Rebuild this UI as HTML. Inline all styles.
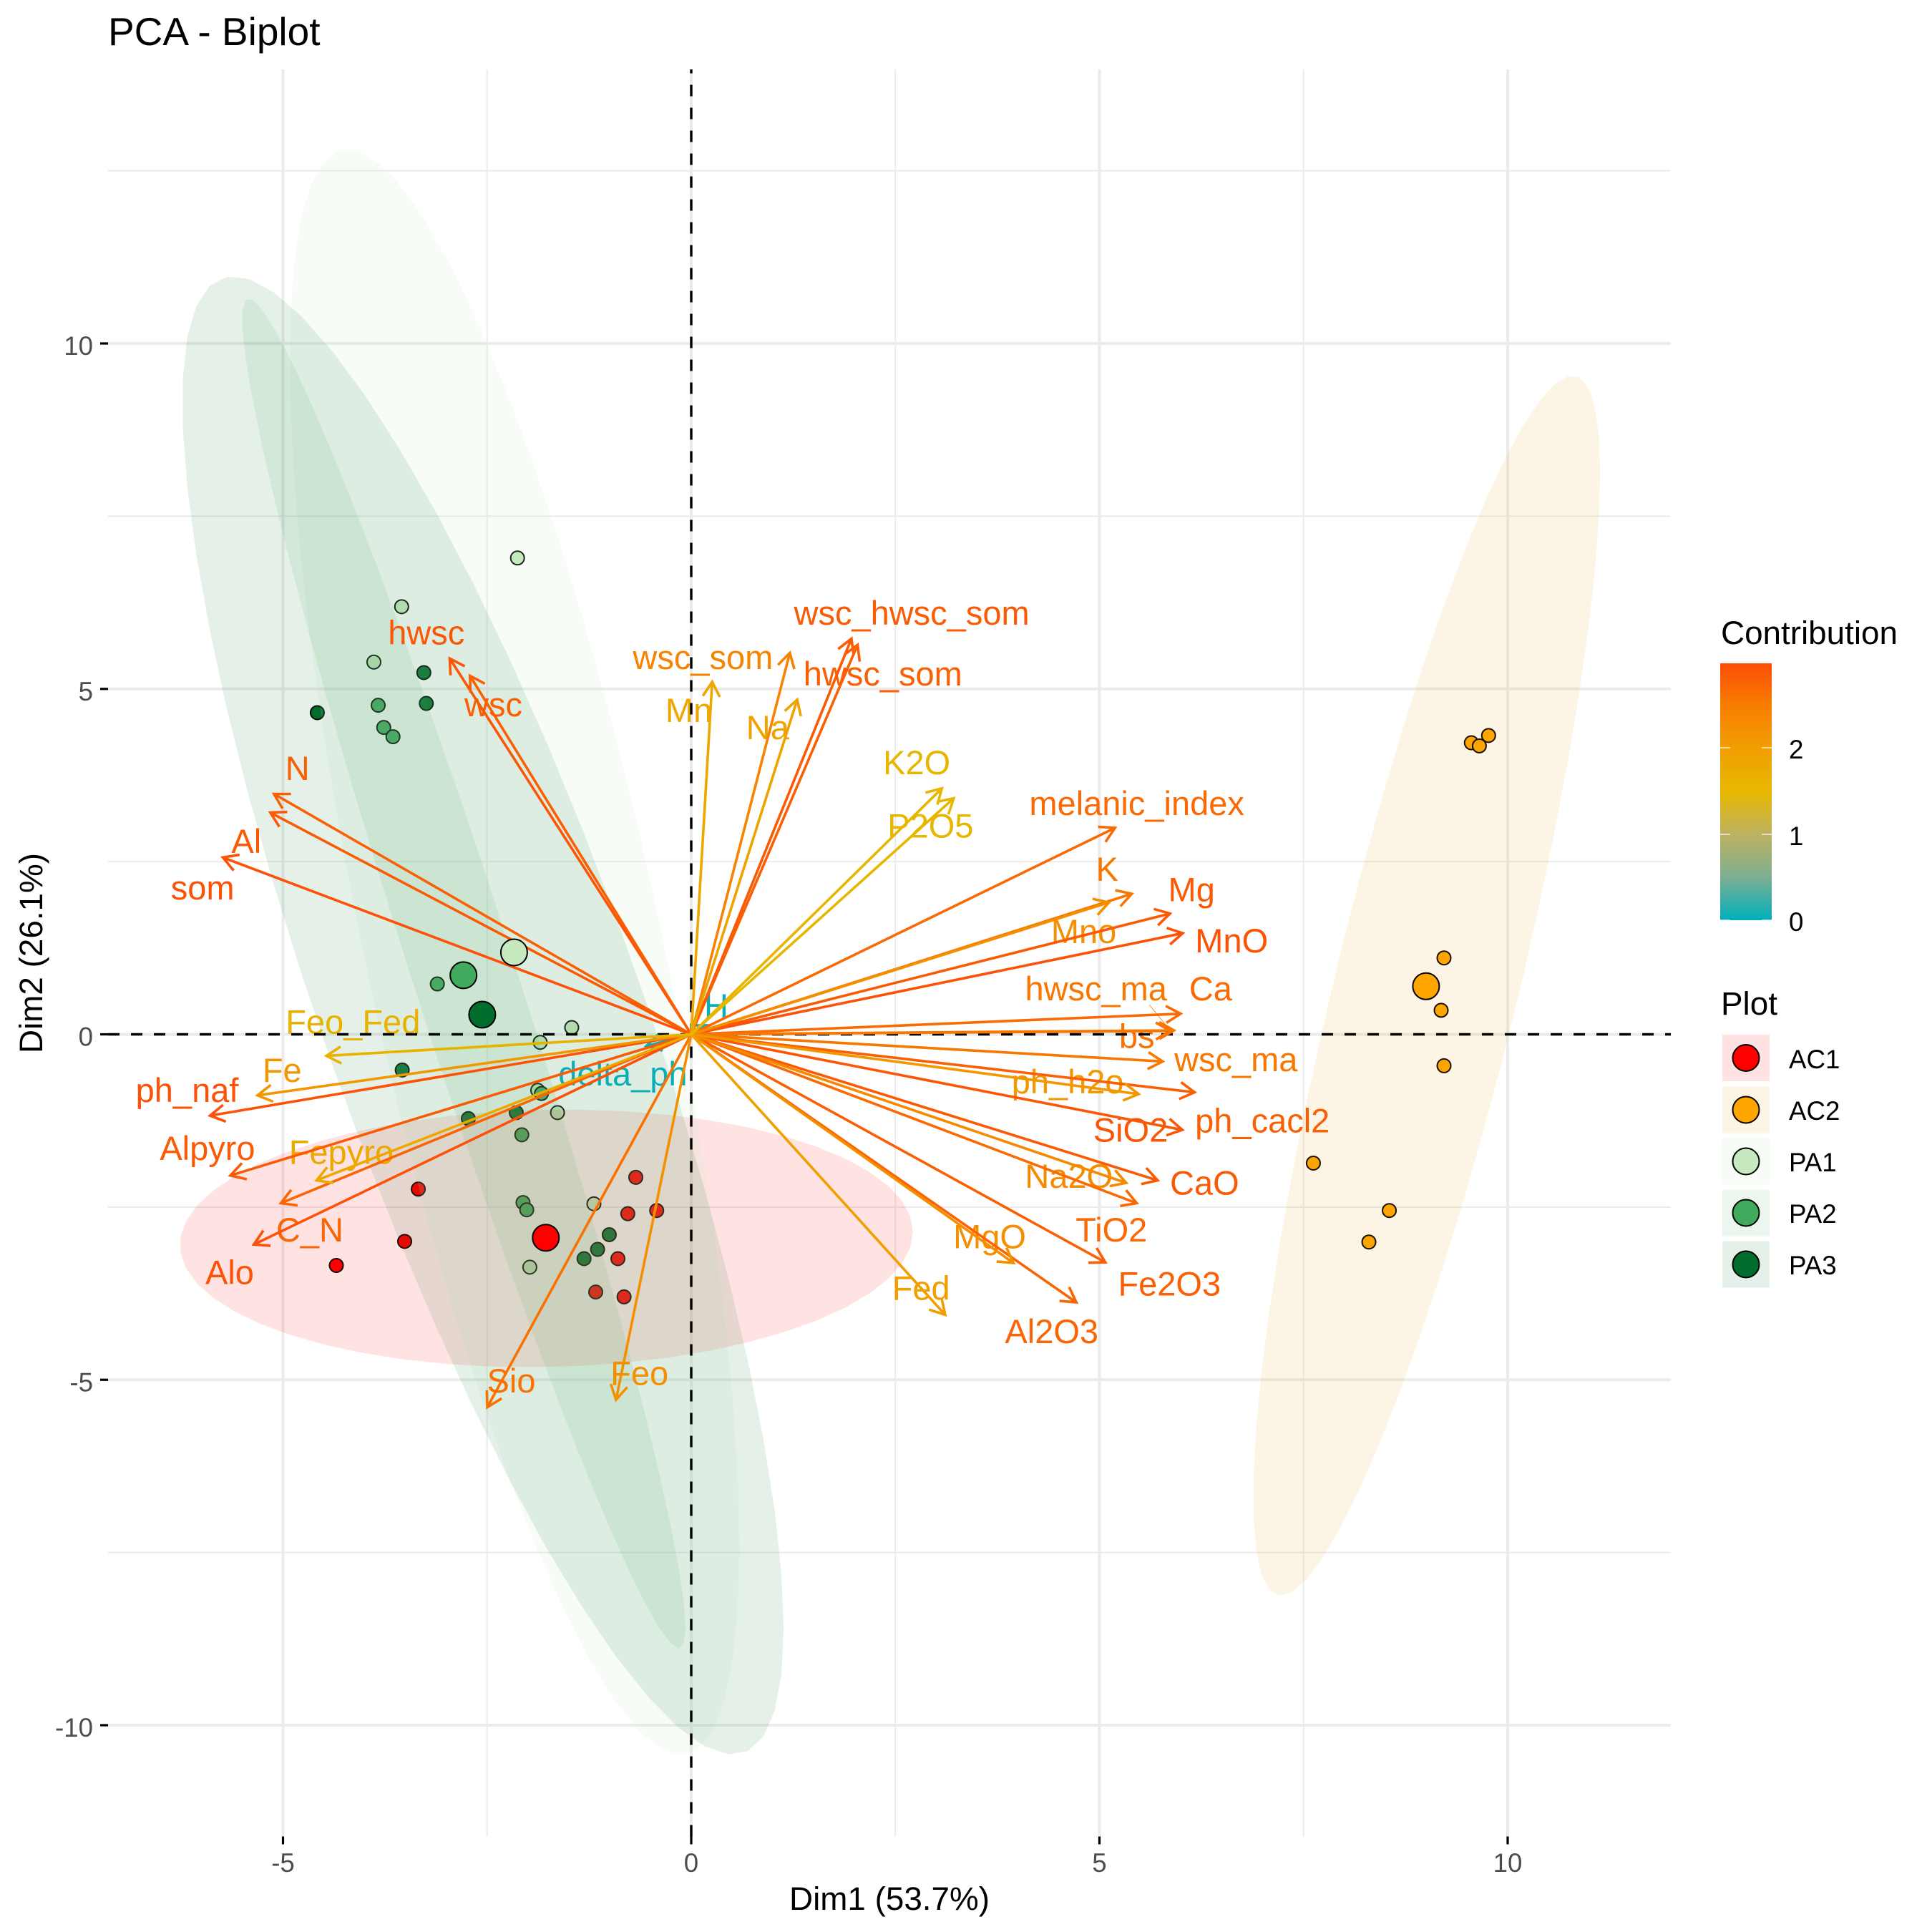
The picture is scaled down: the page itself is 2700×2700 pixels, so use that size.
<!DOCTYPE html>
<html lang="en">
<head>
<meta charset="utf-8">
<title>PCA - Biplot</title>
<style>
html,body{margin:0;padding:0;background:#fff;}
svg{display:block;font-family:"Liberation Sans",Arial,sans-serif;}
</style>
</head>
<body>
<svg id="chart" xmlns="http://www.w3.org/2000/svg" width="2700" height="2700" viewBox="0 0 2700 2700">
  <defs>
    <linearGradient id="contrib-gradient" x1="0" y1="1" x2="0" y2="0">
      <stop offset="0" stop-color="#00AFBB"/>
      <stop offset="0.168" stop-color="#7FAF92"/>
      <stop offset="0.336" stop-color="#BDB25F"/>
      <stop offset="0.5" stop-color="#E7B800"/>
      <stop offset="0.671" stop-color="#F19E00"/>
      <stop offset="0.84" stop-color="#F87C00"/>
      <stop offset="1" stop-color="#FC4E07"/>
    </linearGradient>
  </defs>
  <rect width="2700" height="2700" fill="#ffffff"/>
  <text x="151" y="63" font-size="55" fill="#000">PCA - Biplot</text>
  <g id="grid"></g>
  <g id="axes"></g>
  <g id="ind-points"></g>
  <g id="ellipses"></g>
  <g id="var-labels"></g>
  <line x1="1606" y1="1404" x2="1628" y2="1431" stroke="#F97A00" stroke-width="0.8"/>
  <g id="zero-lines"></g>
  <g id="var-arrows"></g>
  <g id="mean-points"></g>
  <text x="1243" y="2669" font-size="45.8" text-anchor="middle" fill="#000">Dim1 (53.7%)</text>
  <text transform="translate(59,1332) rotate(-90)" font-size="45.8" text-anchor="middle" fill="#000">Dim2 (26.1%)</text>

  <g>
    <text x="2405" y="900" font-size="45.8" fill="#000">Contribution</text>
    <rect x="2404" y="927" width="72" height="359" fill="url(#contrib-gradient)"/>
    <g stroke="#ffffff" stroke-width="1.2">
      <line x1="2404" x2="2418" y1="1045" y2="1045"/>
      <line x1="2462" x2="2476" y1="1045" y2="1045"/>
      <line x1="2404" x2="2418" y1="1166" y2="1166"/>
      <line x1="2462" x2="2476" y1="1166" y2="1166"/>
      <line x1="2404" x2="2418" y1="1286" y2="1286"/>
      <line x1="2462" x2="2476" y1="1286" y2="1286"/>
    </g>
    <text x="2500" y="1060" font-size="36.7" fill="#000">2</text>
    <text x="2500" y="1181" font-size="36.7" fill="#000">1</text>
    <text x="2500" y="1301" font-size="36.7" fill="#000">0</text>
  </g>

  <g>
    <text x="2405" y="1418" font-size="45.8" fill="#000">Plot</text>
    <g>
      <rect x="2407" y="1446" width="66" height="65" fill="#FF0000" fill-opacity="0.11"/>
      <circle cx="2440" cy="1478.5" r="18.5" fill="#FF0000" stroke="#000" stroke-width="2"/>
      <text x="2500" y="1493" font-size="36.7" fill="#000">AC1</text>
    </g>
    <g>
      <rect x="2407" y="1518.5" width="66" height="65" fill="#E6A000" fill-opacity="0.1"/>
      <circle cx="2440" cy="1551" r="18.5" fill="#FFA500" stroke="#000" stroke-width="2"/>
      <text x="2500" y="1565" font-size="36.7" fill="#000">AC2</text>
    </g>
    <g>
      <rect x="2407" y="1590.5" width="66" height="65" fill="#C7E9C0" fill-opacity="0.15"/>
      <circle cx="2440" cy="1623" r="18.5" fill="#C7E9C0" stroke="#000" stroke-width="2"/>
      <text x="2500" y="1637" font-size="36.7" fill="#000">PA1</text>
    </g>
    <g>
      <rect x="2407" y="1662.5" width="66" height="65" fill="#41AB5D" fill-opacity="0.1"/>
      <circle cx="2440" cy="1695" r="18.5" fill="#41AB5D" stroke="#000" stroke-width="2"/>
      <text x="2500" y="1709" font-size="36.7" fill="#000">PA2</text>
    </g>
    <g>
      <rect x="2407" y="1734.5" width="66" height="65" fill="#006D2C" fill-opacity="0.1"/>
      <circle cx="2440" cy="1767" r="18.5" fill="#006D2C" stroke="#000" stroke-width="2"/>
      <text x="2500" y="1781" font-size="36.7" fill="#000">PA3</text>
    </g>
  </g>
</svg>

<script>
// ---- tick values
var xMajorTicks = [-5, 0, 5, 10];
var yMajorTicks = [-10, -5, 0, 5, 10];
var xMinorTicks = [-2.5, 2.5, 7.5];
var yMinorTicks = [-7.5, -2.5, 2.5, 7.5, 12.5];

// ---- individuals (Dim1 / Dim2), by group
var groupNames = ['AC1', 'AC2', 'PA1', 'PA2', 'PA3'];
var groupColors = ['#FF0000', '#FFA500', '#C7E9C0', '#41AB5D', '#006D2C'];
var ac1Dim1 = [-0.679, -3.343, -0.423, -0.777, -3.51, -0.898, -4.347, -1.17, -0.823];
var ac1Dim2 = [-2.07, -2.24, -2.55, -2.596, -2.997, -3.247, -3.345, -3.73, -3.80];
var ac2Dim1 = [9.555, 9.653, 9.766, 9.22, 9.185, 9.22, 7.62, 8.55, 8.30];
var ac2Dim2 = [4.22, 4.175, 4.326, 1.106, 0.348, -0.455, -1.864, -2.55, -3.006];
var pa1Dim1 = [-2.128, -3.547, -3.887, -1.464, -1.85, -1.88, -1.638, -1.192, -1.977];
var pa1Dim2 = [6.895, 6.19, 5.388, 0.098, -0.116, -0.81, -1.133, -2.453, -3.37];
var pa2Dim1 = [-3.834, -3.766, -3.653, -3.11, -1.834, -2.075, -2.06, -2.015];
var pa2Dim2 = [4.763, 4.442, 4.308, 0.73, -0.856, -1.454, -2.435, -2.54];
var pa3Dim1 = [-3.275, -3.245, -4.58, -3.54, -2.73, -2.143, -1.004, -1.147, -1.313];
var pa3Dim2 = [5.236, 4.79, 4.656, -0.517, -1.22, -1.133, -2.9, -3.113, -3.247];

// ---- group means
var meanDim1 = [-1.781, 9.0, -2.17, -2.79, -2.56];
var meanDim2 = [-2.944, 0.696, 1.186, 0.856, 0.285];

// ---- confidence ellipses (data units)
var ellipseDim1Center = [-1.774, 9.008, -2.165, -2.785, -2.551];
var ellipseDim2Center = [-2.953, 0.705, 1.19, 0.88, 0.275];
var ellipseDim1Radius = [4.49, 2.125, 2.755, 2.715, 3.683];
var ellipseDim2Radius = [1.865, 8.83, 11.62, 9.77, 10.7];
var ellipseCorrelation = [0.05, 0.84, -0.74, -0.97, -0.83];
var ellipseFills = ['#FF0000', '#E6A000', '#C7E9C0', '#41AB5D', '#006D2C'];
var ellipseOpacity = [0.11, 0.1, 0.15, 0.1, 0.1];

// ---- variables
var varNames = ['wsc_hwsc_som','hwsc_som','wsc_som','Na','Mn','K2O','P2O5','hwsc','wsc','N','Al','som','melanic_index','K','Mno','Mg','MnO','Ca','hwsc_ma','bs','wsc_ma','ph_h2o','ph_cacl2','SiO2','CaO','Na2O','TiO2','MgO','Fe2O3','Al2O3','Fed','Feo','Sio','Alo','C_N','Fepyro','Alpyro','ph_naf','Fe','Feo_Fed','delta_ph','H'];
var varDim1 = [1.962,2.038,1.208,1.298,0.257,3.07,3.215,-2.958,-2.71,-5.11,-5.155,-5.736,5.19,5.396,5.117,5.864,6.02,5.995,5.913,5.87,5.774,5.479,6.166,6.015,5.713,5.328,5.457,3.947,5.072,4.717,3.11,-0.921,-2.498,-5.358,-5.026,-4.589,-5.645,-5.894,-5.313,-4.468,-0.55,0.19];
var varDim2 = [5.727,5.638,5.522,4.844,5.103,3.56,3.417,5.44,5.19,3.48,3.21,2.56,2.988,2.034,1.909,1.748,1.463,0.298,0.057,0.05,-0.393,-0.865,-0.839,-1.383,-2.114,-2.15,-2.444,-3.31,-3.30,-3.88,-4.059,-5.29,-5.397,-3.042,-2.444,-2.114,-2.043,-1.177,-0.883,-0.312,-0.17,0.13];
var varContrib = [2.85,2.8,2.4,1.9,1.85,1.55,1.5,2.9,2.8,2.8,2.85,2.95,2.7,2.55,2.2,2.85,2.95,2.7,2.55,2.6,2.55,2.1,2.8,2.9,2.85,2.3,2.7,2.2,2.8,2.75,2.0,2.2,2.6,2.95,2.75,1.8,2.85,2.95,2.1,1.6,0.03,0.03];
var labelDim1 = [2.70,2.347,0.143,0.936,-0.03,2.762,2.93,-3.245,-2.423,-4.823,-5.449,-5.985,5.457,5.094,4.808,6.128,6.619,6.362,4.958,5.457,6.672,4.611,6.996,5.381,6.287,4.626,5.147,3.655,5.857,4.415,2.815,-0.634,-2.204,-5.653,-4.672,-4.287,-5.925,-6.174,-5.011,-4.143,-0.838,0.307];
var labelDim2 = [5.932,5.049,5.29,4.273,4.523,3.765,2.846,5.647,4.603,3.684,2.623,1.954,3.176,2.221,1.32,1.927,1.186,0.49,0.49,-0.196,-0.535,-0.856,-1.418,-1.552,-2.319,-2.221,-2.997,-3.095,-3.782,-4.469,-3.845,-5.076,-5.183,-3.613,-2.997,-1.873,-1.819,-0.981,-0.687,0.009,-0.74,0.243];

// ---- colour scale
var scaleValues = [0, 0.5, 1, 1.49, 2, 2.5, 2.98];
var scaleColors = [[0,175,187],[127,175,146],[189,178,95],[231,184,0],[241,158,0],[248,124,0],[252,78,7]];

// ---- geometry
var NS = 'http://www.w3.org/2000/svg';
var panelLeft = 151, panelRight = 2335, panelTop = 97, panelBottom = 2566.5;
var ellipseSegments = 51;
function sx(v) { return 966 + v * 114.1; }
function sy(v) { return 1445.5 - v * 96.55; }
function contribColor(c) {
  var i = 0;
  c = Math.max(scaleValues[0], Math.min(scaleValues[scaleValues.length - 1], c));
  while (i < scaleValues.length - 2 && c > scaleValues[i + 1]) i++;
  var t = (c - scaleValues[i]) / (scaleValues[i + 1] - scaleValues[i]);
  var a = scaleColors[i], b = scaleColors[i + 1];
  return 'rgb(' + Math.round(a[0] + (b[0] - a[0]) * t) + ',' + Math.round(a[1] + (b[1] - a[1]) * t) + ',' + Math.round(a[2] + (b[2] - a[2]) * t) + ')';
}
function make(tag, attrs, parentId) {
  var el = document.createElementNS(NS, tag);
  for (var k in attrs) el.setAttribute(k, attrs[k]);
  document.getElementById(parentId).appendChild(el);
  return el;
}

// ---- grid
xMinorTicks.forEach(function (t) {
  var el = make('line', {x1: sx(t), x2: sx(t), y1: panelTop, y2: panelBottom, stroke: '#EBEBEB', 'stroke-width': 2}, 'grid');
  
  
});
yMinorTicks.forEach(function (t) {
  var el = make('line', {x1: panelLeft, x2: panelRight, y1: sy(t), y2: sy(t), stroke: '#EBEBEB', 'stroke-width': 2}, 'grid');
  
  
});
xMajorTicks.forEach(function (t) {
  var el = make('line', {x1: sx(t), x2: sx(t), y1: panelTop, y2: panelBottom, stroke: '#EBEBEB', 'stroke-width': 4}, 'grid');
  
  
});
yMajorTicks.forEach(function (t) {
  var el = make('line', {x1: panelLeft, x2: panelRight, y1: sy(t), y2: sy(t), stroke: '#EBEBEB', 'stroke-width': 4}, 'grid');
  
  
});

// ---- axis ticks and labels
xMajorTicks.forEach(function (t) {
  var tick = make('line', {x1: sx(t), x2: sx(t), y1: panelBottom, y2: panelBottom + 11, stroke: '#000', 'stroke-width': 3.2}, 'axes');
  
  
  var lab = make('text', {x: sx(t), y: 2616, 'font-size': 36.7, 'text-anchor': 'middle', fill: '#4D4D4D'}, 'axes');
  
  
  lab.textContent = String(t);
});
yMajorTicks.forEach(function (t) {
  var tick = make('line', {x1: panelLeft - 11, x2: panelLeft, y1: sy(t), y2: sy(t), stroke: '#000', 'stroke-width': 3.2}, 'axes');
  
  
  var lab = make('text', {x: 130, y: sy(t) + 16, 'font-size': 36.7, 'text-anchor': 'end', fill: '#4D4D4D'}, 'axes');
  
  
  lab.textContent = String(t);
});

// ---- individual points
var groupDim1 = [ac1Dim1, ac2Dim1, pa1Dim1, pa2Dim1, pa3Dim1];
var groupDim2 = [ac1Dim2, ac2Dim2, pa1Dim2, pa2Dim2, pa3Dim2];
groupNames.forEach(function (name, g) {
  groupDim1[g].forEach(function (v, i) {
    var p = make('circle', {cx: sx(v), cy: sy(groupDim2[g][i]), r: 9.5, fill: groupColors[g], stroke: '#000', 'stroke-width': 2}, 'ind-points');
    
    
  });
});

// ---- ellipses
groupNames.forEach(function (name, g) {
  var phi = Math.acos(ellipseCorrelation[g]);
  var d = '';
  for (var k = 0; k < ellipseSegments; k++) {
    var t = k / ellipseSegments * 2 * Math.PI;
    var ex = ellipseDim1Center[g] + ellipseDim1Radius[g] * Math.cos(t);
    var ey = ellipseDim2Center[g] + ellipseDim2Radius[g] * Math.cos(t - phi);
    d += (k ? 'L' : 'M') + sx(ex).toFixed(1) + ' ' + sy(ey).toFixed(1);
  }
  var e = make('path', {d: d + 'Z', fill: ellipseFills[g], 'fill-opacity': ellipseOpacity[g], stroke: 'none'}, 'ellipses');
  
  
});

// ---- variable labels
varNames.forEach(function (name, i) {
  var t = make('text', {x: sx(labelDim1[i]), y: sy(labelDim2[i]), 'font-size': 47, 'text-anchor': 'middle', fill: contribColor(varContrib[i])}, 'var-labels');
  
  
  t.textContent = name;
});

// ---- zero lines
var hZero = make('line', {x1: panelLeft, x2: panelRight, y1: sy(0), y2: sy(0), stroke: '#000', 'stroke-width': 3.4, 'stroke-dasharray': '16 16'}, 'zero-lines');


var vZero = make('line', {x1: sx(0), x2: sx(0), y1: panelBottom, y2: panelTop, stroke: '#000', 'stroke-width': 3.4, 'stroke-dasharray': '16 16'}, 'zero-lines');



// ---- variable arrows: faint low-contribution arrows sit underneath, then strongest to weakest
var drawOrder = varNames.map(function (n, i) { return i; });
drawOrder.sort(function (p, q) {
  var pLow = varContrib[p] < 0.5 ? 0 : 1, qLow = varContrib[q] < 0.5 ? 0 : 1;
  if (pLow !== qLow) return pLow - qLow;
  return varContrib[q] - varContrib[p];
});
drawOrder.forEach(function (i) {
  var name = varNames[i];
  var x0 = sx(0), y0 = sy(0), x1 = sx(varDim1[i]), y1 = sy(varDim2[i]);
  var ang = Math.atan2(y1 - y0, x1 - x0), len = 23.6, spread = Math.PI / 6;
  var bx1 = x1 - len * Math.cos(ang - spread), by1 = y1 - len * Math.sin(ang - spread);
  var bx2 = x1 - len * Math.cos(ang + spread), by2 = y1 - len * Math.sin(ang + spread);
  var d = 'M' + x0 + ' ' + y0 + 'L' + x1.toFixed(1) + ' ' + y1.toFixed(1) +
          'M' + bx1.toFixed(1) + ' ' + by1.toFixed(1) + 'L' + x1.toFixed(1) + ' ' + y1.toFixed(1) + 'L' + bx2.toFixed(1) + ' ' + by2.toFixed(1);
  var a = make('path', {d: d, fill: 'none', stroke: contribColor(varContrib[i]), 'stroke-width': 3.6}, 'var-arrows');
  
  
});

// ---- group means
groupNames.forEach(function (name, g) {
  var m = make('circle', {cx: sx(meanDim1[g]), cy: sy(meanDim2[g]), r: 18.5, fill: groupColors[g], stroke: '#000', 'stroke-width': 2}, 'mean-points');
  
  
});
</script>
</body>
</html>
